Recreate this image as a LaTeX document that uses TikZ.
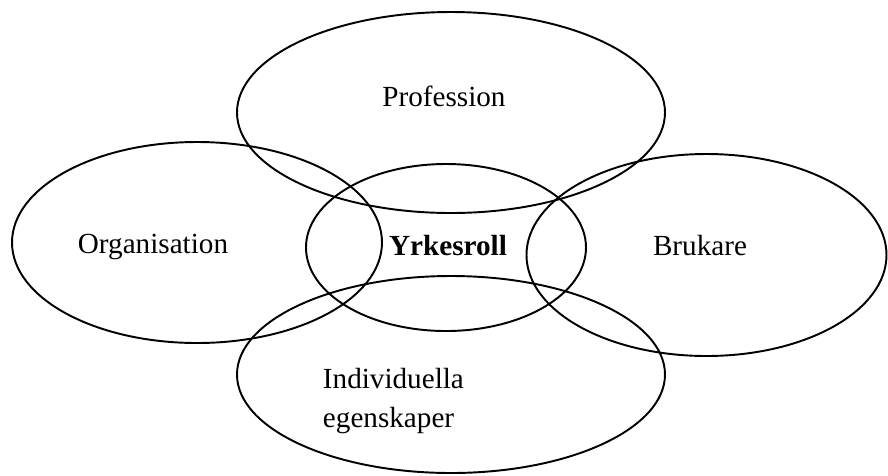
\documentclass[tikz,border=0pt]{standalone}
\usepackage{fontspec}
\setmainfont{Liberation Serif}
\usepackage{tikz}

\begin{document}
\begin{tikzpicture}[line width=0.55pt, font=\fontsize{8.3}{11}\selectfont]
    \useasboundingbox (0, 0) rectangle (8.88, 4.75);
    \draw (4.51, 3.625) ellipse (2.14 and 1.005);
    \draw (1.97, 2.325) ellipse (1.85 and 1.005);
    \draw (4.46, 2.275) ellipse (1.40 and 0.835);
    \draw (7.065, 2.20) ellipse (1.80 and 1.01);
    \draw (4.51, 1.005) ellipse (2.14 and 0.985);
    \node[anchor=base] (prof) at (4.44, 3.69) {Profession};
    \node[anchor=base] (org) at (1.53, 2.22) {Organisation};
    \node[anchor=base] (roll) at (4.48, 2.20) {\textbf{Yrkesroll}};
    \node[anchor=base] (bruk) at (7.00, 2.20) {Brukare};
    \node[anchor=base west, align=left, inner sep=0pt] (indiv) at (3.22, 0.48) {Individuella\\egenskaper};
  \end{tikzpicture}
\end{document}
